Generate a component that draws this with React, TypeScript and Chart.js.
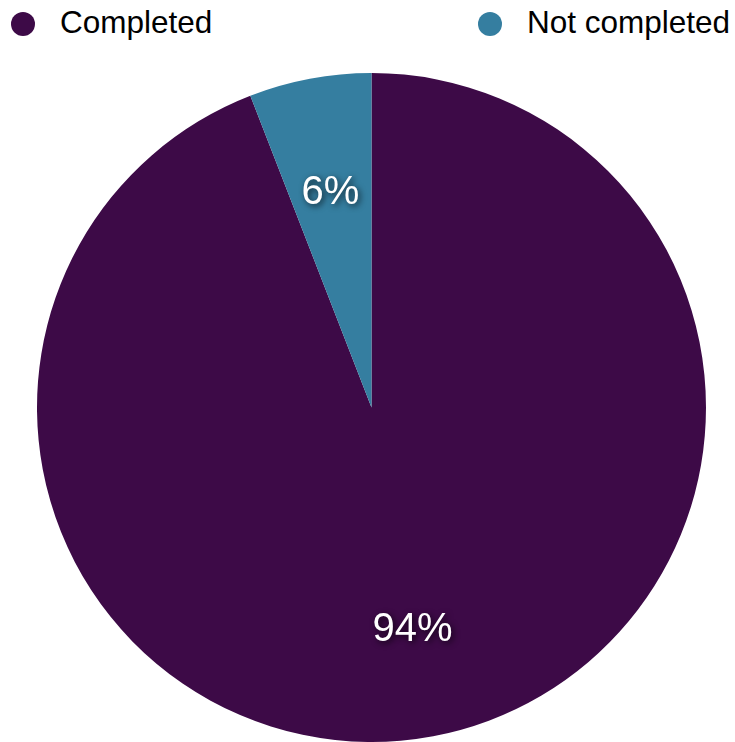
import React, { useEffect, useRef } from "react";
import { Chart, registerables } from "chart.js";

Chart.register(...registerables);

const categories = ["Completed", "Not completed"];
const values = [94.1, 5.9];
const colors = ["#3d0a47", "#357ea0"];
const percentLabels = ["94%", "6%"];

const labelPlugin = {
  id: "sliceLabels",
  afterDatasetsDraw(chart: any) {
    const ctx = chart.ctx;
    const meta = chart.getDatasetMeta(0);
    ctx.save();
    ctx.font = '40px "Liberation Sans", Arial, Helvetica, sans-serif';
    ctx.fillStyle = "#ffffff";
    ctx.textAlign = "center";
    ctx.textBaseline = "middle";
    ctx.shadowColor = "rgba(0,0,0,0.75)";
    ctx.shadowBlur = 6;
    ctx.shadowOffsetX = 2;
    ctx.shadowOffsetY = 2;
    meta.data.forEach((arc: any, i: number) => {
      const p = arc.getProps(["x", "y", "startAngle", "endAngle", "outerRadius"], true);
      const mid = (p.startAngle + p.endAngle) / 2;
      const r = p.outerRadius * 0.665;
      ctx.fillText(percentLabels[i], p.x + Math.cos(mid) * r, p.y + Math.sin(mid) * r + 4);
    });
    ctx.restore();
  },
};

export default function App() {
  const ref = useRef<HTMLCanvasElement | null>(null);
  useEffect(() => {
    if (!ref.current) return;
    const chart = new Chart(ref.current, {
      type: "pie",
      data: {
        labels: categories,
        datasets: [
          {
            data: values,
            backgroundColor: colors,
            borderWidth: 0,
          },
        ],
      },
      options: {
        responsive: false,
        animation: false,
        layout: { padding: 0 },
        plugins: {
          legend: { display: false },
          tooltip: { enabled: false },
        },
      },
      plugins: [labelPlugin],
    });
    return () => chart.destroy();
  }, []);

  const font = '"Liberation Sans", Arial, Helvetica, sans-serif';
  const dot = (left: number, color: string) => (
    <div
      style={{
        position: "absolute",
        left,
        top: 12,
        width: 24,
        height: 24,
        borderRadius: "50%",
        background: color,
      }}
    />
  );
  return (
    <div
      style={{
        position: "fixed",
        left: 0,
        top: 0,
        width: 735,
        height: 742,
        overflow: "hidden",
        background: "#fff",
        fontFamily: font,
      }}
    >
      {dot(11, colors[0])}
      <div style={{ position: "absolute", left: 60, top: 4, fontSize: 31.5, color: "#000", whiteSpace: "nowrap" }}>
        {categories[0]}
      </div>
      {dot(478, colors[1])}
      <div style={{ position: "absolute", left: 527, top: 4, fontSize: 31.5, color: "#000", whiteSpace: "nowrap" }}>
        {categories[1]}
      </div>
      <canvas
        ref={ref}
        width={669}
        height={669}
        style={{ position: "absolute", left: 37, top: 73, width: 669, height: 669 }}
      />
    </div>
  );
}
